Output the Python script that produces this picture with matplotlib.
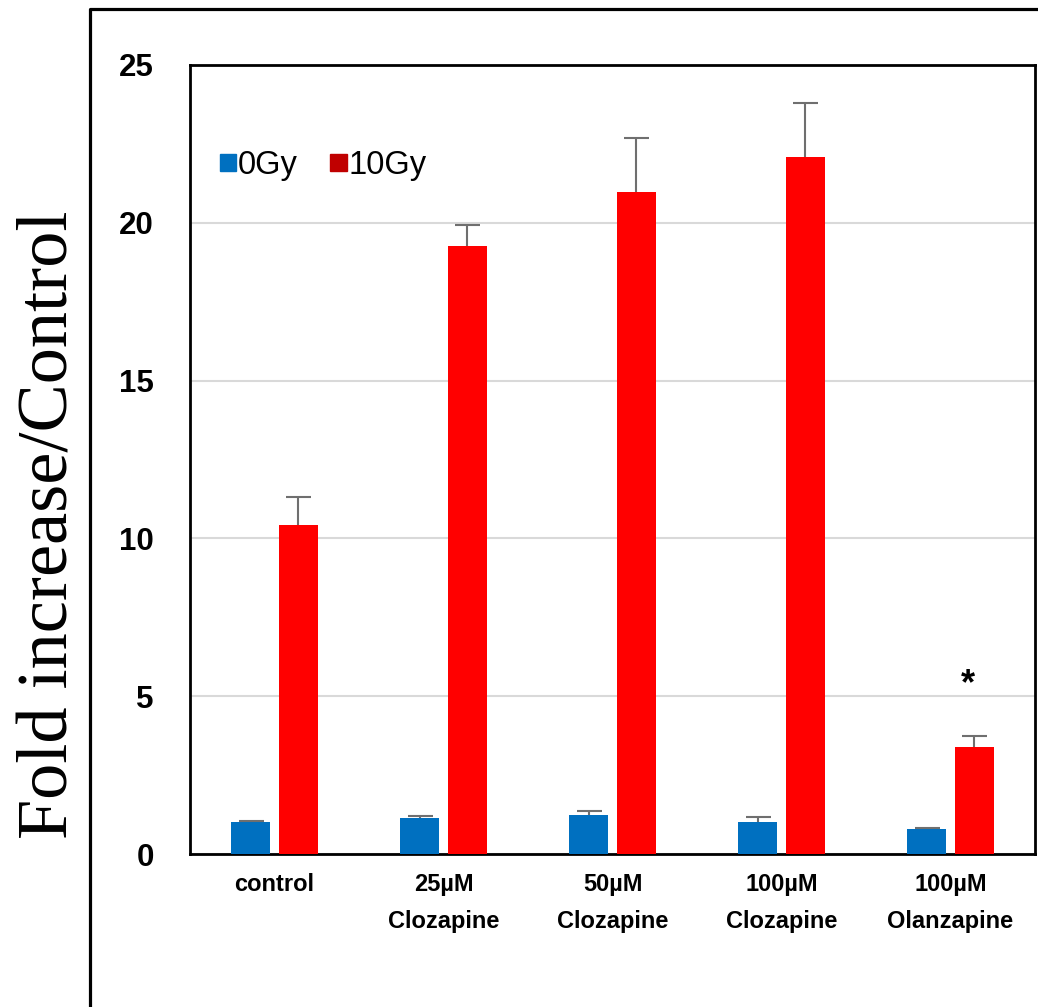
import numpy as np
import matplotlib.pyplot as plt
from matplotlib.lines import Line2D
from matplotlib.patches import Patch

plt.rcParams['font.family'] = ['Liberation Sans', 'DejaVu Sans']

# данные
categories = ["control", "25\u00b5M\nClozapine", "50\u00b5M\nClozapine",
              "100\u00b5M\nClozapine", "100\u00b5M\nOlanzapine"]
gy0 = [1.01, 1.14, 1.23, 1.01, 0.79]
gy0_err = [0.03, 0.06, 0.12, 0.15, 0.03]
gy10 = [10.44, 19.27, 20.98, 22.09, 3.39]
gy10_err = [0.88, 0.67, 1.71, 1.71, 0.35]
yticks = [0, 5, 10, 15, 20, 25]

blue = "#0070C0"
red = "#FF0000"
errc = "#6f6f6f"

fig = plt.figure(figsize=(10.38, 10.07), dpi=100)
ax = fig.add_axes([190 / 1038, 1 - 854 / 1007, 845 / 1038, 789 / 1007])

x = np.arange(len(categories))
w = 0.225
off = 0.142

ax.bar(x - off, gy0, w, color=blue, zorder=3)
ax.bar(x + off, gy10, w, color=red, zorder=3)
for xs, vals, errs in [(x - off, gy0, gy0_err), (x + off, gy10, gy10_err)]:
    eb = ax.errorbar(xs, vals, yerr=[np.zeros(5), errs], fmt='none',
                     ecolor=errc, elinewidth=1.5, capsize=9, capthick=1.5, zorder=4)
    eb[1][0].set_visible(False)  # нижний кэп не нужен

# звёздочка над Olanzapine
ax.text(x[4] + off - 0.04, 5.35, "*", ha='center', va='center', fontsize=26, fontweight='bold')

ax.set_xlim(-0.5, 4.5)
ax.set_ylim(0, 25)
ax.set_yticks(yticks)
ax.set_yticklabels([str(t) for t in yticks], fontsize=22.5, fontweight='bold')
ax.set_xticks(x)
ax.set_xticklabels(categories, fontsize=17, fontweight='bold', linespacing=1.75)
ax.tick_params(axis='y', length=0, pad=26)
ax.tick_params(axis='x', length=0, pad=14)
ax.yaxis.grid(True, color="#d9d9d9", linewidth=1.5, zorder=0)
ax.set_axisbelow(True)
for s in ax.spines.values():
    s.set_linewidth(2)
    s.set_color('black')

handles = [Patch(color=blue), Patch(color="#C00000")]
ax.legend(handles, ["0Gy", "10Gy"], loc='upper left', bbox_to_anchor=(0.02, 0.909),
          ncol=2, frameon=False, fontsize=23.5, handlelength=0.5, handleheight=0.42,
          handletextpad=0.05, columnspacing=1.0, borderaxespad=0)

fig.text(50 / 1038, 1 - 525 / 1007, "Fold increase/Control", rotation=90,
         ha='center', va='center', fontsize=52, family='Liberation Serif')

# внешняя рамка
fig.add_artist(Line2D([90 / 1038, 90 / 1038, 1.0], [0.0, 1 - 9 / 1007, 1 - 9 / 1007],
                      transform=fig.transFigure, color='black', linewidth=2.3))

fig.savefig("out.png", dpi=100)
